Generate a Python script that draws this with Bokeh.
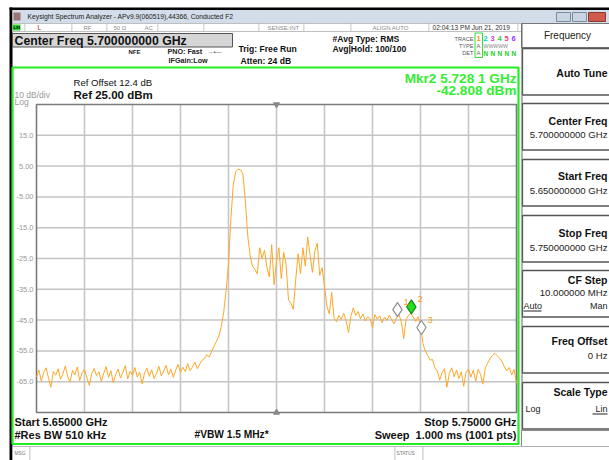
from bokeh.plotting import figure
from bokeh.models import Range1d
from bokeh.core.properties import value
from bokeh.embed import file_html
from bokeh.resources import INLINE
import numpy as np

# ---------------- data ----------------
START_GHZ = 5.65
STOP_GHZ = 5.75
REF_DBM = 25.0
DB_PER_DIV = 10.0
N_DIV = 10
CENTER_GHZ = 5.70

LEVELS_DBM = [
    -63.5, -61.2, -64.8, -62.0, -60.5, -63.9, -66.8, -61.7, -62.9, -60.8,
    -64.2, -62.5, -59.9, -63.4, -65.1, -61.3, -62.8, -60.2, -64.6, -62.1,
    -61.0, -63.7, -66.2, -62.4, -60.7, -63.0, -61.8, -64.9, -62.3, -60.1,
    -63.6, -61.4, -65.3, -62.7, -60.9, -63.8, -62.0, -59.8, -64.1, -61.6,
    -62.9, -60.4, -63.5, -61.9, -65.7, -62.2, -60.6, -63.3, -61.1, -64.0,
    -62.4, -60.0, -63.1, -61.5, -59.7, -62.8, -60.9, -63.6, -61.2, -59.4,
    -62.0, -60.3, -61.7, -59.1, -61.4, -60.2, -58.6, -60.8, -59.3, -58.0,
    -57.5, -56.2, -57.0, -55.0, -53.5, -51.8, -50.2, -47.0, -42.5, -35.4,
    -27.0, -12.0, -1.0, 3.2, 4.0, 3.8, 2.5, -6.0, -17.5, -24.0,
    -27.5, -28.5, -30.0, -21.5, -25.0, -22.3, -27.8, -31.0, -20.5, -33.5,
    -26.0, -21.5, -31.5, -23.0, -27.0, -38.5, -39.5, -41.5, -32.0, -23.5,
    -30.0, -21.5, -27.5, -18.0, -24.0, -29.5, -22.5, -20.0, -30.5, -28.0,
    -34.0, -40.5, -43.0, -36.0, -44.5, -45.5, -43.5, -44.8, -42.8, -45.2,
    -49.0, -43.8, -41.0, -43.5, -42.2, -44.6, -43.0, -45.3, -43.9, -44.5,
    -47.5, -43.2, -44.7, -43.6, -45.8, -44.0, -45.1, -43.4, -44.9, -46.2,
    -44.3, -43.1, -45.6, -51.0, -44.8, -43.5, -42.8, -44.0, -45.4, -43.9,
    -46.5, -52.6, -55.0, -56.5, -58.0, -57.8, -60.5, -61.5, -64.5, -62.0,
    -60.8, -66.8, -62.3, -60.5, -63.4, -61.2, -64.0, -61.8, -66.5, -62.0,
    -60.9, -63.5, -61.3, -64.8, -61.0, -62.6, -65.8, -60.5, -59.0, -57.5,
    -56.4, -55.8, -56.6, -57.4, -58.5, -60.2, -61.5, -60.4, -62.8, -61.0, -65.5,
]
FREQS_GHZ = np.linspace(START_GHZ, STOP_GHZ, len(LEVELS_DBM))

MKR_NAMES = ["1", "2", "3"]
MKR_FREQ_GHZ = [5.7252, 5.7281, 5.7302]
MKR_LEVEL_DBM = [-43.7, -42.808, -49.5]
MKR_FILL = ["white", "#22dd22", "white"]
MKR_LINE = ["#888888", "#118811", "#888888"]

Y_TICKS = [15, 5, -5, -15, -25, -35, -45, -55, -65]
Y_TICK_LABELS = ["15.0", "5.00", "-5.00", "-15.0", "-25.0", "-35.0", "-45.0", "-55.0", "-65.0"]
X_GRID = [5.66, 5.67, 5.68, 5.69, 5.70, 5.71, 5.72, 5.73, 5.74]

# ---------------- geometry (canvas pixels) ----------------
W, H = 609, 460
FL, FT, FW, FH = 36, 104, 480, 308   # graticule box in canvas px
FONT = "Liberation Sans"

BOTTOM_DBM = REF_DBM - N_DIV * DB_PER_DIV
SPAN = STOP_GHZ - START_GHZ
DB_SPAN = REF_DBM - BOTTOM_DBM

p = figure(width=W, height=H, x_range=Range1d(0, W), y_range=Range1d(H, 0),
           output_backend="svg", toolbar_location=None,
           x_axis_location=None, y_axis_location=None,
           min_border=0, min_border_left=0, min_border_right=0,
           min_border_top=0, min_border_bottom=0)
p.grid.visible = False
p.outline_line_color = None
p.background_fill_color = "white"
p.border_fill_color = "white"

# data ranges mapped onto the graticule box
p.extra_x_ranges = {"spec": Range1d(START_GHZ - FL / FW * SPAN,
                                    STOP_GHZ + (W - FL - FW) / FW * SPAN)}
p.extra_y_ranges = {"spec": Range1d(BOTTOM_DBM - (H - FT - FH) / FH * DB_SPAN,
                                    REF_DBM + FT / FH * DB_SPAN)}
S = dict(x_range_name="spec", y_range_name="spec")


def rect(x0, y0, x1, y1, fill=None, line=None, lw=1.0):
    p.quad(left=[x0], right=[x1], top=[y0], bottom=[y1],
           fill_color=fill if fill else "white", fill_alpha=1.0 if fill else 0.0,
           line_color=line if line else "white", line_alpha=1.0 if line else 0.0,
           line_width=lw)


def txt(X, Y, s, size, color="#000000", bold=False, align="left"):
    p.text(x=[X], y=[Y], text=[s], text_font=value(FONT),
           text_font_size=value(f"{size}px"), text_color=color,
           text_font_style="bold" if bold else "normal",
           text_align=align, text_baseline="middle")


# ---------------- window chrome ----------------
rect(9, 7, 620, 9.5, "#000000")            # top black frame
rect(9, 7, 12, 470, "#000000")             # left black frame
rect(12, 9.5, 620, 23, "#d3dde9")          # title bar
rect(13, 12, 20, 20, "#9a7676")            # app icon
txt(27, 16, "Keysight Spectrum Analyzer - APv9.9(060519),44366, Conducted F2", 6.75, "#202020")
rect(556, 12, 570, 21, "#c9d4e2", "#7d8da0")
rect(572, 12, 586, 21, "#c9d4e2", "#7d8da0")
rect(588, 12, 605, 21, "#d05a4a", "#8a3a30")

# status row
rect(12, 23, 620, 31, "#ffffff", "#b0b0b0", 0.8)
rect(12, 24, 20, 30, "#33cc33")
txt(13, 27, "LXI", 4.2, "#000000", True)
for xs in [24, 71, 106, 157, 203, 258, 303, 350, 428, 517]:
    rect(xs, 23, xs + 0.8, 31, "#b8b8b8")
txt(37, 27, "L", 6.5, "#992222")
txt(83, 27, "RF", 6.0, "#8a8a8a")
txt(113, 27, "50 \u03a9", 6.0, "#8a8a8a")
txt(144, 27, "AC", 6.0, "#8a8a8a")
txt(267, 27, "SENSE:INT", 6.0, "#8a8a8a")
txt(372, 27, "ALIGN AUTO", 6.0, "#8a8a8a")
txt(432, 27, "02:04:13 PM Jun 21, 2019", 6.6, "#303030")

# center freq bar and settings
rect(12, 33, 232, 46.5, "#d6d6d6", "#555555", 1.0)
txt(14, 40, "Center Freq 5.700000000 GHz", 12.3, "#111111", True)
txt(128, 51, "NFE", 6.0, "#222222", True)
txt(167, 51, "PNO: Fast", 7.2, "#222222", True)
txt(207, 51, "\u2192\u2022\u2014", 6.0, "#444444")
txt(168, 59.5, "IFGain:Low", 7.2, "#222222", True)
txt(238, 48, "Trig: Free Run", 8.6, "#111111", True)
txt(240, 60, "Atten: 24 dB", 8.6, "#111111", True)
txt(332, 38.5, "#Avg Type: RMS", 8.6, "#111111", True)
txt(332, 48.5, "Avg|Hold: 100/100", 8.6, "#111111", True)

# trace table
txt(473, 38, "TRACE", 5.6, "#555555", False, "right")
txt(473, 45.5, "TYPE", 5.6, "#555555", False, "right")
txt(473, 52.5, "DET", 5.6, "#555555", False, "right")
rect(474.5, 32.5, 482, 57, None, "#33dd33", 1.0)
TRACE_COLS = ["#ff9900", "#00c8d8", "#e040e0", "#33cc33", "#ff3377", "#9933ff"]
for k, c in enumerate(TRACE_COLS):
    txt(476 + 7 * k, 38, str(k + 1), 7.5, c, True)
txt(476, 45.5, "A", 6.0, "#666666")
txt(483, 45.5, "WWWWW", 5.2, "#888888")
txt(476, 52.5, "A", 6.0, "#666666")
for k in range(5):
    txt(483 + 7 * k, 52.5, "N", 6.5, "#22cc22", True)

# ---------------- right softkey panel ----------------
rect(521, 23, 620, 47, "#ffffff", "#777777", 1.0)
txt(567, 35, "Frequency", 10, "#222222", False, "center")
KEY_TOPS = [48, 103, 159, 215, 270, 326, 382]
for t in KEY_TOPS:
    rect(522, t, 625, t + 46.5, "#ffffff", "#555555", 1.3)
rect(521, 23, 522, 446, "#666666")
rect(521, 430, 620, 446, "#ffffff", "#888888", 1.0)
RX = 607
txt(RX, KEY_TOPS[0] + 24, "Auto Tune", 10.5, "#111111", True, "right")
txt(RX, KEY_TOPS[1] + 17, "Center Freq", 10.5, "#111111", True, "right")
txt(RX, KEY_TOPS[1] + 30.5, "5.700000000 GHz", 9.6, "#222222", False, "right")
txt(RX, KEY_TOPS[2] + 16.5, "Start Freq", 10.5, "#111111", True, "right")
txt(RX, KEY_TOPS[2] + 31, "5.650000000 GHz", 9.6, "#222222", False, "right")
txt(RX, KEY_TOPS[3] + 17, "Stop Freq", 10.5, "#111111", True, "right")
txt(RX, KEY_TOPS[3] + 31.5, "5.750000000 GHz", 9.6, "#222222", False, "right")
txt(RX, KEY_TOPS[4] + 9, "CF Step", 10.5, "#111111", True, "right")
txt(RX, KEY_TOPS[4] + 22, "10.000000 MHz", 9.6, "#222222", False, "right")
txt(523, KEY_TOPS[4] + 35, "Auto", 9.0, "#222222")
rect(523, KEY_TOPS[4] + 40, 541, KEY_TOPS[4] + 41, "#222222")
txt(RX, KEY_TOPS[4] + 35, "Man", 9.0, "#222222", False, "right")
txt(RX, KEY_TOPS[5] + 14, "Freq Offset", 10.5, "#111111", True, "right")
txt(RX, KEY_TOPS[5] + 29, "0 Hz", 9.6, "#222222", False, "right")
txt(RX, KEY_TOPS[6] + 9, "Scale Type", 10.5, "#111111", True, "right")
txt(525, KEY_TOPS[6] + 26, "Log", 9.0, "#222222")
txt(RX, KEY_TOPS[6] + 26, "Lin", 9.0, "#222222", False, "right")
rect(592, KEY_TOPS[6] + 31, 607, KEY_TOPS[6] + 32, "#222222")

# ---------------- measurement area ----------------
rect(12, 67, 518, 443.5, None, "#22ee22", 2.2)
txt(516, 77.5, "Mkr2 5.728 1 GHz", 13.6, "#33ee33", True, "right")
txt(516, 90, "-42.808 dBm", 13.6, "#33ee33", True, "right")
txt(73, 82, "Ref Offset 12.4 dB", 9.6, "#111111")
txt(14, 94.5, "10 dB/div", 8.5, "#999999")
txt(14, 101.5, "Log", 8.5, "#999999")
txt(73, 94, "Ref 25.00 dBm", 11.5, "#111111", True)

txt(14, 421, "Start 5.65000 GHz", 11.0, "#111111", True)
txt(14, 434, "#Res BW 510 kHz", 11.0, "#111111", True)
txt(194, 434, "#VBW 1.5 MHz*", 10.2, "#111111", True)
txt(516, 421, "Stop 5.75000 GHz", 11.0, "#111111", True, "right")
txt(516, 434, "Sweep\u00a0\u00a01.000 ms (1001 pts)", 11.0, "#111111", True, "right")

# bottom status bar
rect(12, 446, 620, 470, "#ffffff", "#a8a8a8", 0.8)
rect(29, 446, 29.8, 470, "#b0b0b0")
rect(394, 446, 394.8, 470, "#b0b0b0")
rect(422, 446, 422.8, 470, "#b0b0b0")
txt(14, 452.5, "MSG", 4.8, "#777777")
txt(396, 452.5, "STATUS", 4.8, "#777777")

# ---------------- graticule (data space) ----------------
n_x = len(X_GRID)
n_y = len(Y_TICKS)
p.segment(x0=X_GRID, y0=[BOTTOM_DBM] * n_x, x1=X_GRID, y1=[REF_DBM] * n_x,
          line_color="#c4c4c4", line_width=1.5, **S)
p.segment(x0=[START_GHZ] * n_y, y0=Y_TICKS, x1=[STOP_GHZ] * n_y, y1=Y_TICKS,
          line_color="#c4c4c4", line_width=1.5, **S)
p.quad(left=[START_GHZ], right=[STOP_GHZ], top=[REF_DBM], bottom=[BOTTOM_DBM],
       fill_alpha=0.0, line_color="#7a7a7a", line_width=1.6, **S)
p.text(x=[START_GHZ] * n_y, y=Y_TICKS, text=Y_TICK_LABELS, x_offset=-3,
       text_font=value(FONT), text_font_size=value("7.5px"), text_color="#9a9a9a",
       text_align="right", text_baseline="middle", **S)
p.scatter([CENTER_GHZ], [REF_DBM], marker="inverted_triangle", size=6,
          fill_color="#888888", line_color="#888888", **S)
p.scatter([CENTER_GHZ], [BOTTOM_DBM], marker="triangle", size=6,
          fill_color="#888888", line_color="#888888", **S)

# ---------------- trace & markers ----------------
p.line(FREQS_GHZ, LEVELS_DBM, line_color="#ffa726", line_width=1.0, **S)

px_per_db = FH / DB_SPAN
lift_db = 6.5 / px_per_db
mk_y = [v + lift_db for v in MKR_LEVEL_DBM]
p.scatter(MKR_FREQ_GHZ, mk_y, marker="diamond", size=14,
          fill_color=MKR_FILL, line_color=MKR_LINE, line_width=1.1, **S)
p.text(MKR_FREQ_GHZ, MKR_LEVEL_DBM, text=MKR_NAMES, x_offset=6, y_offset=-14,
       text_font=value(FONT), text_font_size=value("9.5px"), text_color="#ff9a10",
       text_baseline="middle", text_align="left", **S)

open("out.html", "w").write(file_html(p, INLINE))
